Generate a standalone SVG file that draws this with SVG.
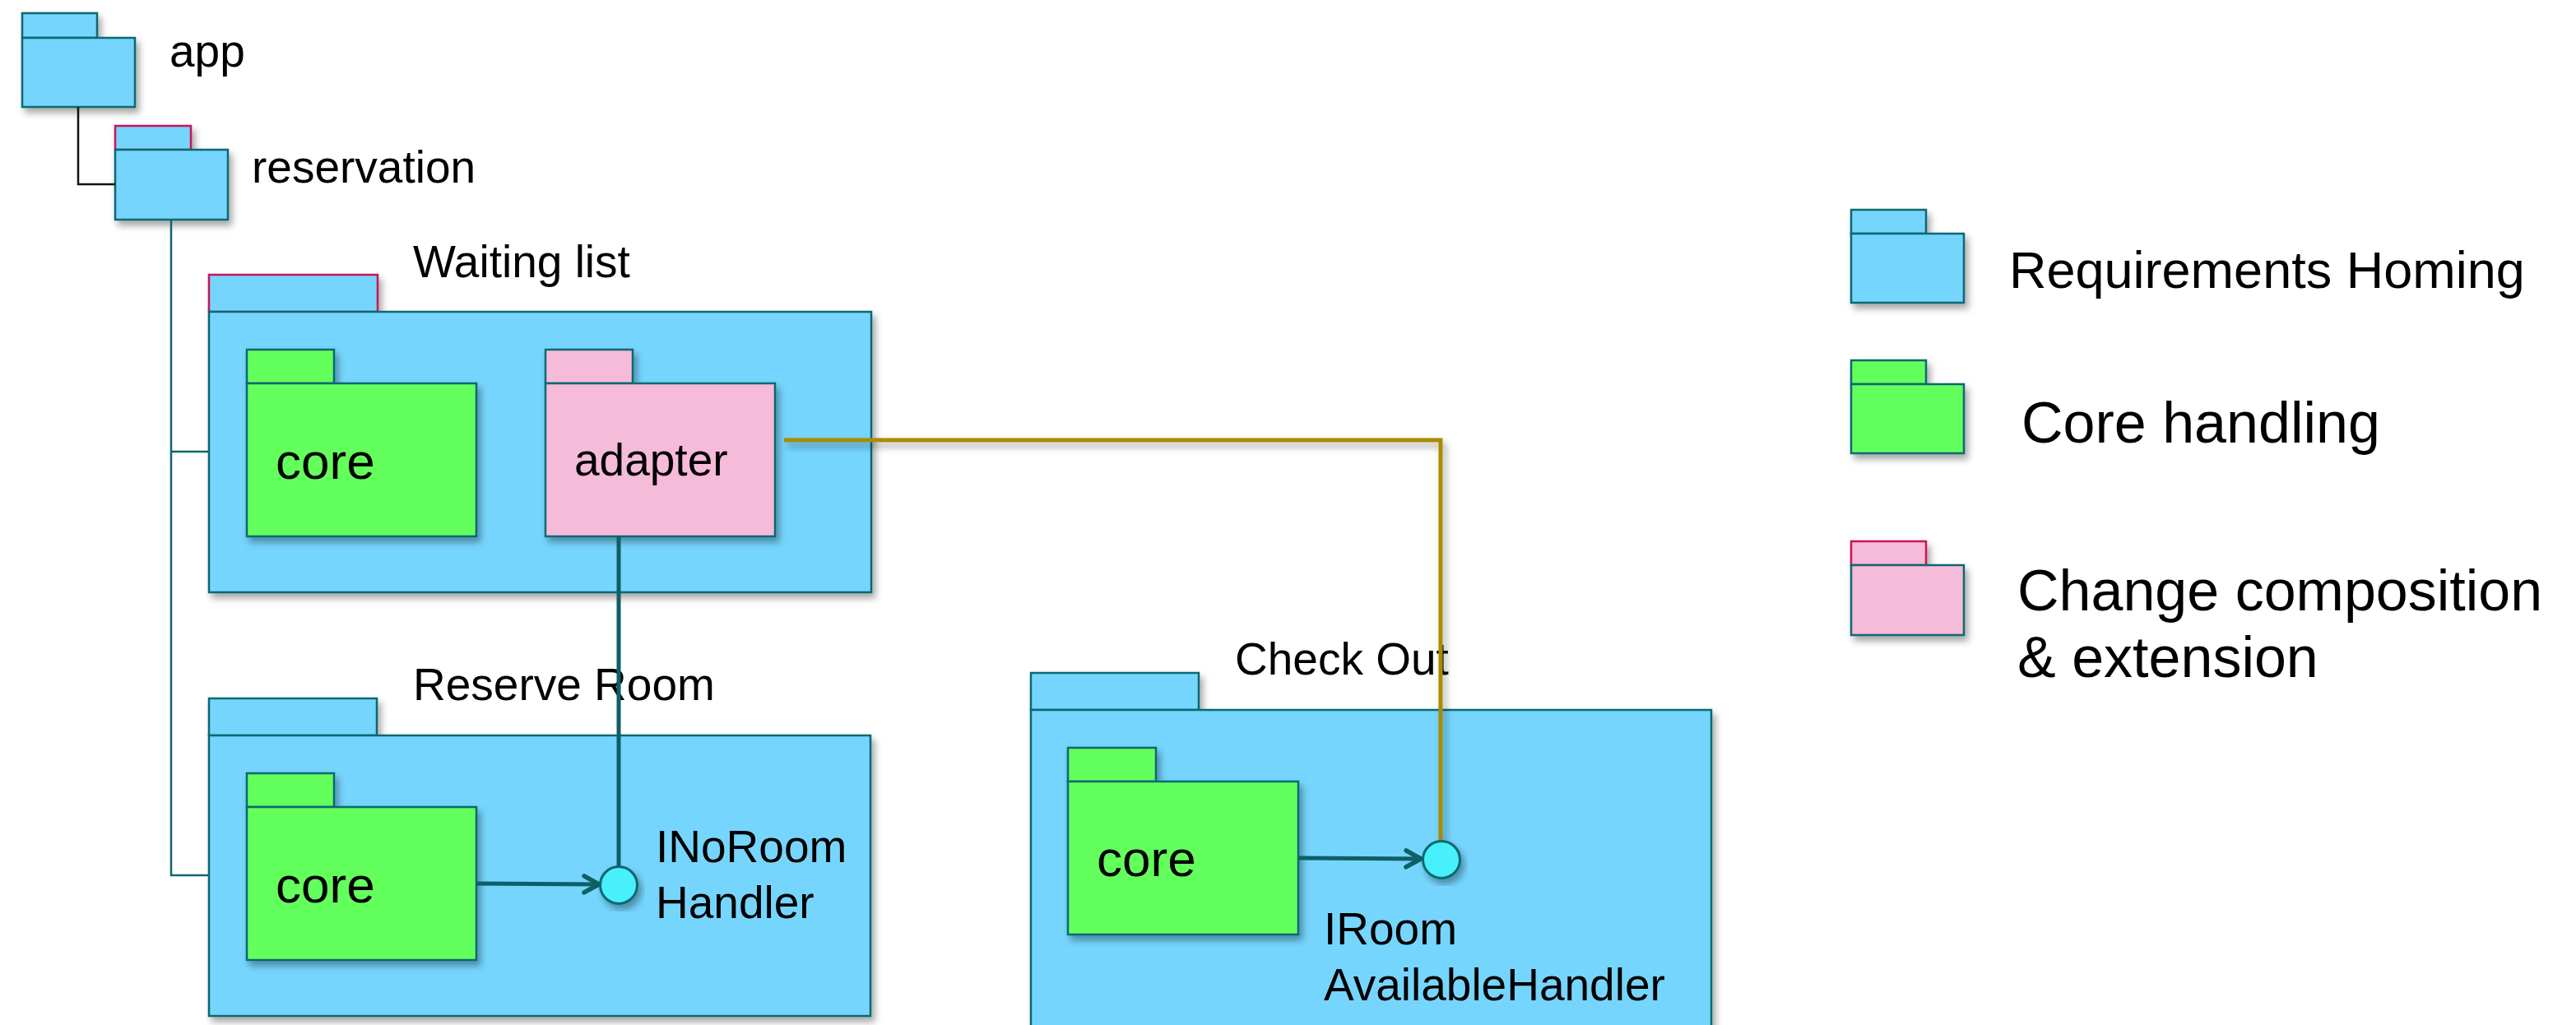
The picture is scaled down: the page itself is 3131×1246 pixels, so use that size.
<svg xmlns="http://www.w3.org/2000/svg" width="3131" height="1246" viewBox="0 0 3131 1246">
<defs>
<filter id="sh" x="-10%" y="-10%" width="130%" height="130%">
<feDropShadow dx="4" dy="6" stdDeviation="4" flood-color="#000" flood-opacity="0.35"/>
</filter>
<marker id="chev" viewBox="0 0 26 26" refX="21" refY="13" markerWidth="26" markerHeight="26" markerUnits="userSpaceOnUse" orient="auto">
<path d="M3,3 L21,13 L3,23" fill="none" stroke="#0E5F66" stroke-width="5.5" stroke-linecap="round" stroke-linejoin="round"/>
</marker>
</defs>
<style>
.b{fill:#76D5FD;stroke:#0B6770;stroke-width:2.5}
.g{fill:#64FF5C;stroke:#0B6770;stroke-width:2.5}
.p{fill:#F6BBD9;stroke:#0B6770;stroke-width:2.5}
.cr{stroke:#C8145A}
.t{font-family:"Liberation Sans",Arial,sans-serif;fill:#000}
.lbl{font-size:55px}
.core{font-size:62px}
.ifc{fill:#47F0FA;stroke:#0B6770;stroke-width:3}
</style>
<rect width="3131" height="1246" fill="#fff"/>

<g id="app" filter="url(#sh)">
<rect class="b" x="27" y="16" width="91" height="30"/>
<rect class="b" x="27" y="46" width="137" height="84"/>
</g>
<text class="t lbl" x="206" y="81">app</text>

<g id="reservation" filter="url(#sh)">
<rect class="b cr" x="140" y="153" width="92" height="29"/>
<rect class="b" x="140" y="182" width="137" height="85"/>
</g>
<text class="t lbl" x="306" y="222">reservation</text>

<g id="waiting-list">
<g filter="url(#sh)">
<rect class="b cr" x="254" y="334" width="205" height="45"/>
<rect class="b" x="254" y="379" width="805" height="341"/>
</g>
<text class="t lbl" x="502" y="337">Waiting list</text>
</g>

<g id="wl-core" filter="url(#sh)">
<rect class="g" x="300" y="425" width="106" height="41"/>
<rect class="g" x="300" y="466" width="279" height="186"/>
<text class="t core" x="335" y="582">core</text>
</g>

<g id="wl-adapter" filter="url(#sh)">
<rect class="p" x="663" y="425" width="106" height="41"/>
<rect class="p" x="663" y="466" width="279" height="186"/>
<text class="t lbl" x="698" y="578">adapter</text>
</g>

<g id="reserve-room">
<g filter="url(#sh)">
<rect class="b" x="254" y="849" width="204" height="45"/>
<rect class="b" x="254" y="894" width="804" height="341"/>
</g>
<text class="t lbl" x="502" y="851">Reserve Room</text>
</g>

<g id="rr-core" filter="url(#sh)">
<rect class="g" x="300" y="940" width="106" height="41"/>
<rect class="g" x="300" y="981" width="279" height="186"/>
<text class="t core" x="335" y="1097">core</text>
</g>

<g id="check-out">
<g filter="url(#sh)">
<rect class="b" x="1253" y="818" width="204" height="45"/>
<rect class="b" x="1253" y="863" width="827" height="420"/>
</g>
<text class="t lbl" x="1501" y="820">Check Out</text>
</g>

<g id="co-core" filter="url(#sh)">
<rect class="g" x="1298" y="909" width="107" height="41"/>
<rect class="g" x="1298" y="950" width="280" height="186"/>
<text class="t core" x="1333" y="1065">core</text>
</g>

<g id="connectors">
<polyline points="95,130 95,224 140,224" fill="none" stroke="#111" stroke-width="2.5"/>
<polyline points="208,267 208,1064 254,1064" fill="none" stroke="#0B6770" stroke-width="2.5"/>
<line x1="208" y1="549" x2="254" y2="549" stroke="#0B6770" stroke-width="2.5"/>
<line x1="752" y1="652" x2="752" y2="1054" stroke="#0E5F66" stroke-width="5"/>
<g filter="url(#sh)">
<polyline points="953,535 1751,535 1751,1023" fill="none" stroke="#A88C00" stroke-width="5"/>
</g>
<line x1="579" y1="1074" x2="728" y2="1075" stroke="#0E5F66" stroke-width="5" marker-end="url(#chev)"/>
<line x1="1578" y1="1043" x2="1727" y2="1044" stroke="#0E5F66" stroke-width="5" marker-end="url(#chev)"/>
</g>

<g id="inoroom-handler">
<circle class="ifc" cx="752" cy="1076" r="22.5" filter="url(#sh)"/>
<text class="t lbl" x="797" y="1048">INoRoom</text>
<text class="t lbl" x="797" y="1116">Handler</text>
</g>

<g id="iroom-available-handler">
<circle class="ifc" cx="1752" cy="1045" r="22.5" filter="url(#sh)"/>
<text class="t lbl" x="1609" y="1148">IRoom</text>
<text class="t lbl" x="1609" y="1216">AvailableHandler</text>
</g>

<g id="legend-requirements">
<g filter="url(#sh)">
<rect class="b" x="2250" y="255" width="91" height="29"/>
<rect class="b" x="2250" y="284" width="137" height="84"/>
</g>
<text class="t" x="2442" y="350" font-size="63">Requirements Homing</text>
</g>

<g id="legend-core">
<g filter="url(#sh)">
<rect class="g" x="2250" y="438" width="91" height="29"/>
<rect class="g" x="2250" y="467" width="137" height="84"/>
</g>
<text class="t" x="2457" y="538" font-size="70">Core handling</text>
</g>

<g id="legend-change">
<g filter="url(#sh)">
<rect class="p cr" x="2250" y="658" width="91" height="29"/>
<rect class="p" x="2250" y="687" width="137" height="85"/>
</g>
<text class="t" x="2452" y="742" font-size="70">Change composition</text>
<text class="t" x="2452" y="823" font-size="70">&amp; extension</text>
</g>
</svg>
